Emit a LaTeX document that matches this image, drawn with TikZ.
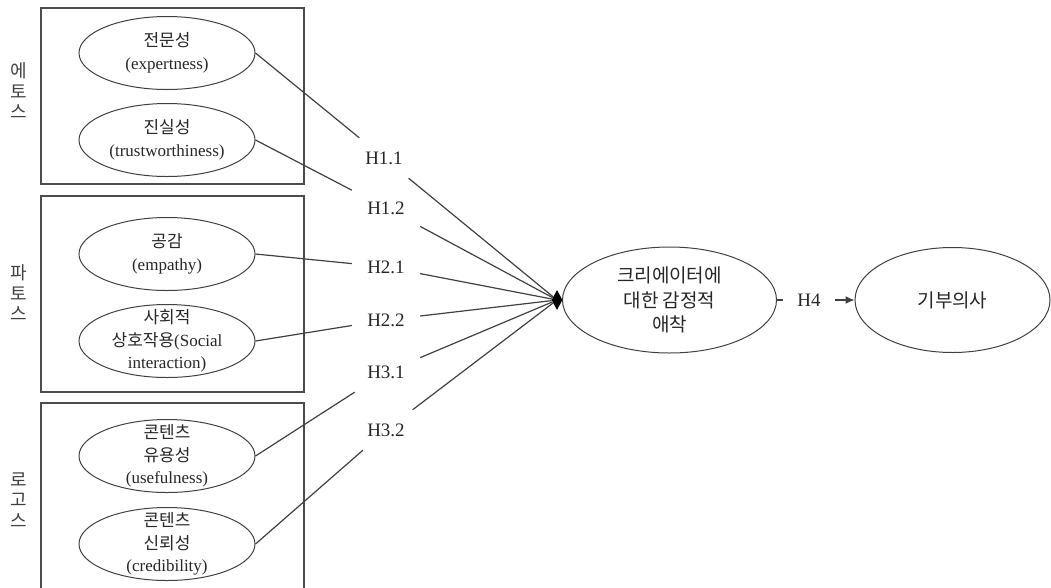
\documentclass[tikz,border=0pt]{standalone}
\usepackage{fontspec}
\setmainfont{Liberation Serif}
\newfontfamily\kr{Noto Sans CJK KR}
\usetikzlibrary{shapes.geometric,arrows.meta}

\begin{document}
\begin{tikzpicture}[x=1pt,y=-1pt,
  groupbox/.style={draw=black!70, line width=1.4pt, inner sep=0pt},
  construct/.style={ellipse, draw=black!75, line width=1pt,
    inner xsep=-12pt, inner ysep=-12pt,
    minimum width=176pt, minimum height=73pt, align=center,
    font=\fontsize{17}{22.5}\selectfont, text=black!85},
  bigconstruct/.style={construct, minimum width=214pt, minimum height=106pt,
    font=\fontsize{19}{24.5}\selectfont},
  sidelabel/.style={align=center, inner sep=0pt, text=black!75,
    font=\kr\fontsize{18}{20.5}\selectfont},
  hyp/.style={inner sep=0pt, minimum width=68pt, minimum height=40pt,
    font=\fontsize{19}{22}\selectfont, text=black!85},
  link/.style={draw=black!75, line width=1.2pt},
  hubmark/.style={diamond, fill=black, inner sep=0pt, minimum width=11pt, minimum height=20pt},
]
\useasboundingbox (0,0) rectangle (1051,587);
\clip (0,0) rectangle (1051,587);

% group frames
\node[groupbox, minimum width=263pt, minimum height=176pt] (g1) at (172.5,96) {};
\node[groupbox, minimum width=263pt, minimum height=196pt] (g2) at (172.5,294) {};
\node[groupbox, minimum width=263pt, minimum height=200pt] (g3) at (172.5,503) {};

% group names
\node[sidelabel] (s1) at (19,91) {에\\토\\스};
\node[sidelabel] (s2) at (19,293) {파\\토\\스};
\node[sidelabel] (s3) at (19,500) {로\\고\\스};

% antecedent constructs
\node[construct] (e1) at (167,53) {{\kr 전문성}\\(expertness)};
\node[construct] (e2) at (167,140) {{\kr 진실성}\\(trustworthiness)};
\node[construct] (e3) at (167,254) {{\kr 공감}\\(empathy)};
\node[construct] (e4) at (167,341) {{\kr 사회적}\\{\kr 상호작용}(Social\\interaction)};
\node[construct] (e5) at (167,456) {{\kr 콘텐츠}\\{\kr 유용성}\\(usefulness)};
\node[construct] (e6) at (167,544) {{\kr 콘텐츠}\\{\kr 신뢰성}\\(credibility)};

% mediator and outcome
\node[bigconstruct] (att) at (669.5,300) {\kr 크리에이터에\\\kr 대한 감정적\\\kr 애착};
\node[bigconstruct, minimum width=195pt, minimum height=105pt] (don) at (952.5,300) {\kr 기부의사};
\node[hubmark] (hub) at (557,300) {};

% hypothesis labels
\node[hyp] (h11) at (384,158) {H1.1};
\node[hyp] (h12) at (386,208) {H1.2};
\node[hyp] (h21) at (386,267) {H2.1};
\node[hyp] (h22) at (386,320) {H2.2};
\node[hyp] (h31) at (386,372) {H3.1};
\node[hyp] (h32) at (386,430) {H3.2};
\node[hyp, minimum width=52pt] (h4) at (809,300) {H4};

% paths
\draw[link] (e1.east) -- (h11) -- (hub);
\draw[link] (e2.east) -- (h12) -- (hub);
\draw[link] (e3.east) -- (h21) -- (hub);
\draw[link] (e4.east) -- (h22) -- (hub);
\draw[link] (e5.east) -- (h31) -- (hub);
\draw[link] (e6.east) -- (h32) -- (hub);
\draw[link] (att.east) -- (h4);
\draw[link, -{Latex[length=9pt,width=8pt]}] (h4) -- (don.west);
\end{tikzpicture}
\end{document}
